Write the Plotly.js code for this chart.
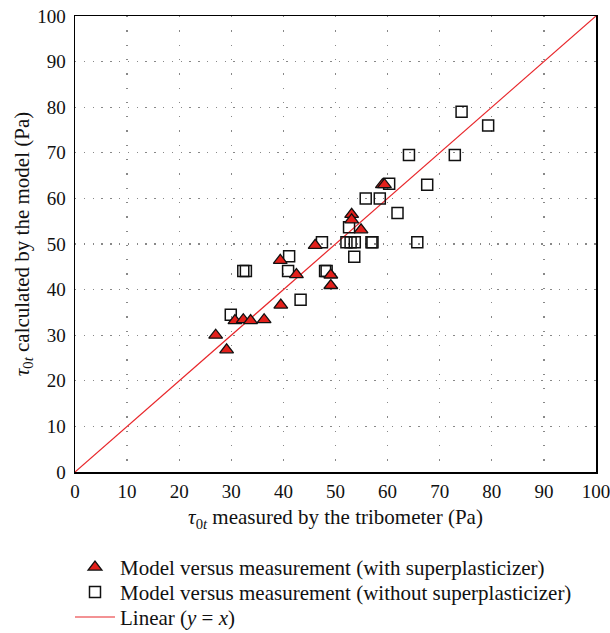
<!DOCTYPE html>
<html>
<head>
<meta charset="utf-8">
<script src="https://cdn.plot.ly/plotly-3.0.1.min.js"></script>
<style>html,body{margin:0;padding:0;background:#fff;}#chart{width:610px;height:633px;}</style>
</head>
<body>
<div id="chart"></div>
<script>
// With superplasticizer (triangles)
var withSP_x = [27.0, 29.1, 30.7, 32.3, 33.7, 36.3, 39.5, 39.4, 42.5, 46.1, 49.1, 49.1, 53.1, 53.1, 54.9, 59.0, 59.4];
var withSP_y = [30.0, 26.8, 33.2, 33.4, 33.2, 33.4, 36.6, 46.4, 43.3, 49.7, 43.2, 40.9, 56.5, 55.3, 53.1, 63.0, 63.0];
// Without superplasticizer (squares)
var noSP_x = [29.9, 32.3, 32.8, 40.9, 41.1, 43.3, 47.4, 48.0, 48.3, 52.1, 52.9, 53.7, 56.9, 57.1, 65.7, 53.6, 52.6, 55.8, 58.5, 61.9, 60.3, 67.6, 64.1, 72.9, 74.2, 79.3];
var noSP_y = [34.5, 44.1, 44.1, 44.1, 47.3, 37.8, 50.4, 44.1, 44.1, 50.4, 50.4, 50.4, 50.4, 50.4, 50.4, 47.2, 53.7, 60.0, 60.0, 56.8, 63.2, 63.0, 69.5, 69.5, 79.0, 76.0];
// Linear y = x
var line_x = [0, 100];
var line_y = [0, 100];
var tickVals = [0, 10, 20, 30, 40, 50, 60, 70, 80, 90, 100];

var serif = 'Liberation Serif, DejaVu Serif, serif';
var legFont = {family: serif, size: 21, color: '#111'};
function leg(y) {
  return {x: -0.0096, xanchor: 'left', y: y, yanchor: 'middle', font: legFont,
          bgcolor: 'rgba(0,0,0,0)', itemwidth: 40};
}

var traces = [
  {x: line_x, y: line_y, type: 'scatter', mode: 'lines', name: 'Linear (<i>y</i> = <i>x</i>)',
   line: {color: '#e8262a', width: 1.2}, legend: 'legend3'},
  {x: noSP_x, y: noSP_y, type: 'scatter', mode: 'markers', name: 'Model versus measurement (without superplasticizer)',
   marker: {symbol: 'square', size: 11, color: 'rgba(0,0,0,0)', line: {color: '#111', width: 1.5}}, legend: 'legend2'},
  {x: withSP_x, y: withSP_y, type: 'scatter', mode: 'markers', name: 'Model versus measurement (with superplasticizer)',
   marker: {symbol: 'triangle-up', size: 12, color: '#e3201b', line: {color: '#111', width: 1.3}}, legend: 'legend'}
];

var layout = {
  width: 610, height: 633,
  margin: {l: 75, r: 14, t: 16, b: 160.5, autoexpand: false},
  paper_bgcolor: '#fff', plot_bgcolor: '#fff',
  font: {family: serif, size: 19, color: '#111'},
  showlegend: true,
  legend: leg(-(568 - 472.5) / 456.5),
  legend2: leg(-(593 - 472.5) / 456.5),
  legend3: leg(-(618 - 472.5) / 456.5),
  xaxis: {range: [0, 100], tickvals: tickVals, ticks: '', showline: true, mirror: true, linecolor: '#000', linewidth: 1.5,
          showgrid: true, gridcolor: '#888', gridwidth: 1.3, griddash: '1.3px,13px', zeroline: false,
          tickfont: {family: serif, size: 19}, ticklabelstandoff: 2, ticklabeloverflow: 'allow',
          title: {text: '<i>τ</i><sub>0<i>t</i></sub> measured by the tribometer (Pa)', font: {family: serif, size: 21}, standoff: 8}},
  yaxis: {range: [0, 100], tickvals: tickVals, ticks: '', showline: true, mirror: true, linecolor: '#000', linewidth: 1.5,
          showgrid: true, gridcolor: '#888', gridwidth: 1.3, griddash: '1.3px,7.5px', zeroline: false,
          tickfont: {family: serif, size: 19}, ticklabelstandoff: 4, ticklabeloverflow: 'allow',
          title: {text: '<i>τ</i><sub>0<i>t</i></sub> calculated by the model (Pa)', font: {family: serif, size: 21}, standoff: 2}}
};

Plotly.newPlot('chart', traces, layout, {displayModeBar: false, staticPlot: true});
</script>
</body>
</html>
